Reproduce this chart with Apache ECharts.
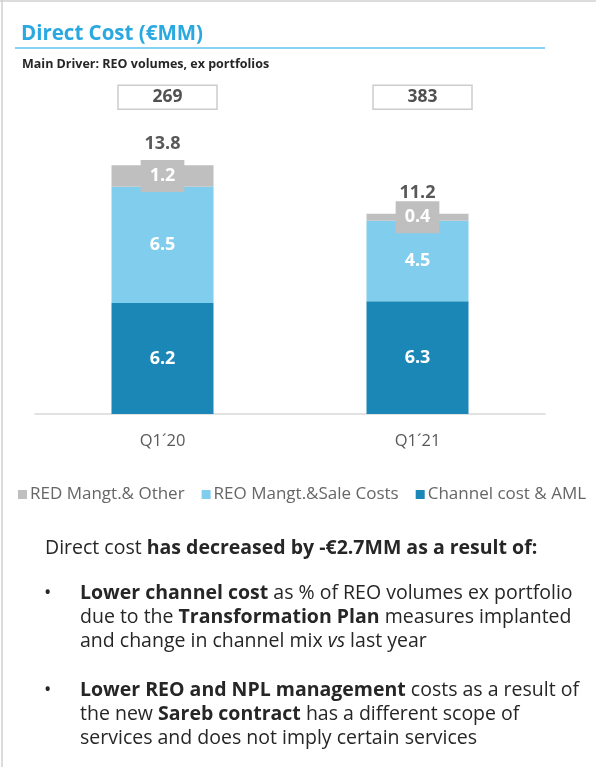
<!DOCTYPE html>
<html>
<head>
<meta charset="utf-8">
<script src="https://cdn.jsdelivr.net/npm/echarts@6/dist/echarts.min.js"></script>
<style>
  html, body { margin: 0; padding: 0; background: #fff; }
  #chart { width: 596px; height: 767px; }
</style>
</head>
<body>
<div id="chart"></div>
<script>
// data
var categories = ['Q1´20', 'Q1´21'];
var channelCost = [6.2, 6.3];
var reoMgmt = [6.5, 4.5];
var redOther = [1.2, 0.4];
var totals = [13.8, 11.2];
var reoVolumes = [269, 383];

var FONT = 'Open Sans';
var BODY = '19.5px "Open Sans"';
var BOX_Y = 17.7; // where the volume boxes sit on the value axis

var myChart = echarts.init(document.getElementById('chart'));

var whiteLabel = {
  show: true,
  position: 'inside',
  color: '#fff',
  fontFamily: FONT,
  fontWeight: 'bold',
  fontSize: 18
};

myChart.setOption({
  animation: false,
  textStyle: { fontFamily: FONT },
  title: [
    {
      text: 'Direct Cost (€MM)',
      left: 16, top: 19,
      textStyle: { color: '#2aa9e1', fontSize: 20.5, fontWeight: 'bold', fontFamily: FONT }
    },
    {
      text: 'Main Driver: REO volumes, ex portfolios',
      left: 17, top: 53,
      textStyle: { color: '#262626', fontSize: 12.5, fontWeight: 'bold', fontFamily: FONT }
    }
  ],
  legend: {
    data: ['RED Mangt.& Other', 'REO Mangt.&Sale Costs', 'Channel cost & AML'],
    left: 13, top: 481,
    icon: 'rect',
    itemWidth: 9, itemHeight: 9, itemGap: 17,
    textStyle: { color: '#666666', fontSize: 17, fontFamily: FONT, padding: [0, 0, 0, -2] }
  },
  grid: { left: 35, right: 51, top: 92, bottom: 353 },
  xAxis: {
    type: 'category',
    data: categories,
    axisLine: { lineStyle: { color: '#d9d9d9', width: 1.5 } },
    axisTick: { show: false },
    axisLabel: { color: '#595959', fontSize: 16.5, margin: 19, fontFamily: FONT }
  },
  yAxis: {
    type: 'value', min: 0, max: 18,
    show: false
  },
  series: [
    {
      name: 'Channel cost & AML', type: 'bar', stack: 'cost',
      barWidth: 102,
      data: channelCost,
      itemStyle: { color: '#1b87b7' },
      label: whiteLabel
    },
    {
      name: 'REO Mangt.&Sale Costs', type: 'bar', stack: 'cost',
      data: reoMgmt,
      itemStyle: { color: '#80cdee' },
      label: whiteLabel
    },
    {
      name: 'RED Mangt.& Other', type: 'bar', stack: 'cost',
      data: redOther,
      itemStyle: { color: '#bfbfbf' },
      label: {
        show: true, position: 'inside',
        color: '#fff', fontWeight: 'bold', fontSize: 18, fontFamily: FONT,
        lineHeight: 18,
        backgroundColor: '#bfbfbf',
        padding: [7, 9, 7, 9]
      }
    },
    {
      name: 'total', type: 'bar', stack: 'cost',
      data: totals.map(function () { return 0; }),
      itemStyle: { color: 'transparent' },
      label: {
        show: true, position: 'top', distance: 12,
        color: '#595959', fontWeight: 'bold', fontSize: 18, fontFamily: FONT,
        formatter: function (p) { return totals[p.dataIndex]; }
      }
    },
    {
      name: 'volumes', type: 'scatter',
      symbolSize: 0, clip: false, silent: true,
      data: reoVolumes.map(function (v, i) { return [i, BOX_Y]; }),
      label: {
        show: true, position: 'inside', offset: [5, 0],
        color: '#262626', fontWeight: 'bold', fontSize: 17.5, fontFamily: FONT,
        borderColor: '#bfbfbf', borderWidth: 1.5,
        width: 99, height: 24, lineHeight: 24, align: 'center',
        formatter: function (p) { return reoVolumes[p.dataIndex]; }
      }
    }
  ],
  graphic: [
    // frame
    { type: 'line', shape: { x1: 2, y1: 0, x2: 2, y2: 767 }, style: { stroke: '#d0d0d0', lineWidth: 1.5 } },
    { type: 'line', shape: { x1: 0, y1: 1, x2: 596, y2: 1 }, style: { stroke: '#d0d0d0', lineWidth: 1.5 } },
    // title underline
    { type: 'line', shape: { x1: 15, y1: 48, x2: 545, y2: 48 }, style: { stroke: '#5cc3ee', lineWidth: 1.5 } },
    // comments
    {
      type: 'text', left: 45, top: 536,
      style: {
        text: 'Direct cost {b|has decreased by -€2.7MM as a result of:}',
        font: BODY, fill: '#262626', lineHeight: 24,
        rich: { b: { fontWeight: 'bold', fontSize: 19.5, fontFamily: FONT, lineHeight: 24 } }
      }
    },
    { type: 'text', left: 44, top: 581, style: { text: '•', font: BODY, fill: '#262626', lineHeight: 24 } },
    {
      type: 'text', left: 80, top: 581,
      style: {
        text: '{b|Lower channel cost} as % of REO volumes ex portfolio\ndue to the {b|Transformation Plan} measures implanted\nand change in channel mix {i|vs} last year',
        font: BODY, fill: '#262626', lineHeight: 24,
        rich: {
          b: { fontWeight: 'bold', fontSize: 19.5, fontFamily: FONT, lineHeight: 24 },
          i: { fontStyle: 'italic', fontSize: 19.5, fontFamily: FONT, lineHeight: 24 }
        }
      }
    },
    { type: 'text', left: 44, top: 678, style: { text: '•', font: BODY, fill: '#262626', lineHeight: 24 } },
    {
      type: 'text', left: 80, top: 678,
      style: {
        text: '{b|Lower REO and NPL management} costs as a result of\nthe new {b|Sareb contract} has a different scope of\nservices and does not imply certain services',
        font: BODY, fill: '#262626', lineHeight: 24,
        rich: {
          b: { fontWeight: 'bold', fontSize: 19.5, fontFamily: FONT, lineHeight: 24 }
        }
      }
    }
  ]
});
</script>
</body>
</html>
